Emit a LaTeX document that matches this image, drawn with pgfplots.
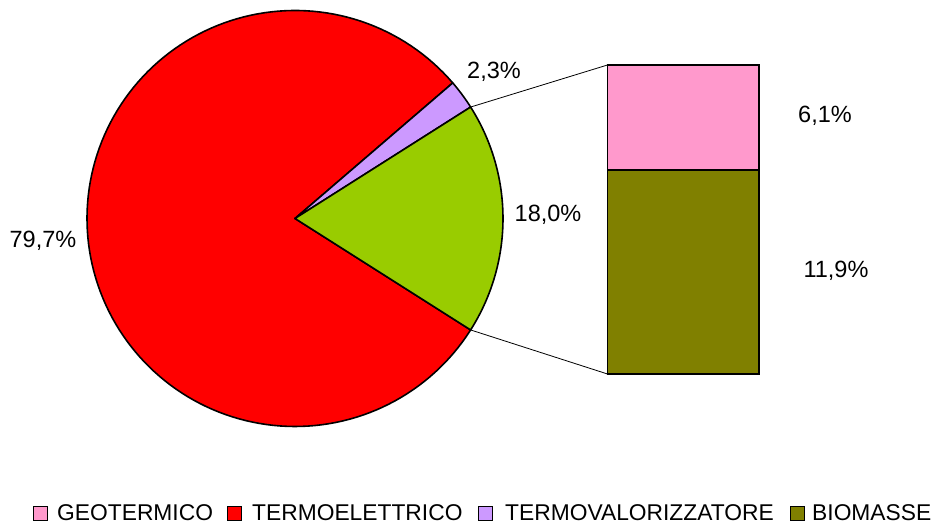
\documentclass[border=0pt]{standalone}
\usepackage{pgfplots}
\pgfplotsset{compat=1.18}
\usepackage{fontspec}
\setmainfont{Liberation Sans}
\definecolor{cred}{HTML}{FF0000}
\definecolor{cpurple}{HTML}{CC99FF}
\definecolor{cgreen}{HTML}{99CC00}
\definecolor{cpink}{HTML}{FF99CC}
\definecolor{colive}{HTML}{808000}
\newcommand{\labfont}{\fontsize{23.5bp}{27bp}\selectfont}
\newcommand{\legfont}{\fontsize{22.8bp}{26bp}\selectfont}
% pie data (percent)
\def\pTermo{79.7}
\def\pValor{2.3}
\def\pAltre{18.0}
% bar data (percent of total)
\def\pGeo{6.1}
\def\pBio{11.9}
\begin{document}
\begin{tikzpicture}
\pgfmathsetmacro{\aG}{\pAltre*3.6/2}
\pgfmathsetmacro{\aV}{\aG+\pValor*3.6}
\pgfmathsetmacro{\aR}{\aV+\pTermo*3.6}
\pgfmathsetmacro{\cx}{295}
\pgfmathsetmacro{\cy}{305.5}
\pgfmathsetmacro{\r}{208}
\pgfmathsetmacro{\bb}{150}
\pgfmathsetmacro{\bt}{459}
\pgfmathsetmacro{\bs}{\bb+(\bt-\bb)*\pBio/(\pBio+\pGeo)}
\begin{axis}[x=1bp,y=1bp,xmin=0,xmax=933,ymin=0,ymax=524,
  hide axis, clip=false,
]
\addplot[draw=none, forget plot] coordinates {(0,0) (933,524)};
% pie slices
\addplot[fill=cred, draw=black, line width=1.6bp, line join=round, domain=\aV:360-\aG, samples=150, variable=\t, forget plot]
  ({\cx+\r*cos(\t)},{\cy+\r*sin(\t)}) -- (axis cs:\cx,\cy) -- cycle;
\addplot[fill=cpurple, draw=black, line width=1.6bp, line join=round, domain=\aG:\aV, samples=20, variable=\t, forget plot]
  ({\cx+\r*cos(\t)},{\cy+\r*sin(\t)}) -- (axis cs:\cx,\cy) -- cycle;
\addplot[fill=cgreen, draw=black, line width=1.6bp, line join=round, domain=-\aG:\aG, samples=60, variable=\t, forget plot]
  ({\cx+\r*cos(\t)},{\cy+\r*sin(\t)}) -- (axis cs:\cx,\cy) -- cycle;
% connectors
\addplot[black, line width=0.8bp, forget plot] coordinates {({\cx+\r*cos(\aG)},{\cy+\r*sin(\aG)}) (607.5,\bt)};
\addplot[black, line width=0.8bp, forget plot] coordinates {({\cx+\r*cos(\aG)},{\cy-\r*sin(\aG)}) (607.5,\bb)};
% bar
\addplot[fill=colive, draw=black, line width=1.6bp, forget plot] coordinates {(607.5,\bb) (759,\bb) (759,\bs) (607.5,\bs)} -- cycle;
\addplot[fill=cpink, draw=black, line width=1.6bp, forget plot] coordinates {(607.5,\bs) (759,\bs) (759,\bt) (607.5,\bt)} -- cycle;
% labels
\node[font=\labfont] at (axis cs:494,452) {2,3\%};
\node[font=\labfont] at (axis cs:548,309) {18,0\%};
\node[font=\labfont] at (axis cs:43,283) {79,7\%};
\node[font=\labfont] at (axis cs:825,408) {6,1\%};
\node[font=\labfont] at (axis cs:836,253) {11,9\%};
% legend
\filldraw[fill=cpink, draw=black, line width=1.3bp] (axis cs:33.5,3.5) rectangle (axis cs:47.5,17.5);
\node[font=\legfont, anchor=base west, inner sep=0pt] at (axis cs:57,3) {GEOTERMICO};
\filldraw[fill=cred, draw=black, line width=1.3bp] (axis cs:227.5,3.5) rectangle (axis cs:241.5,17.5);
\node[font=\legfont, anchor=base west, inner sep=0pt] at (axis cs:252,3) {TERMOELETTRICO};
\filldraw[fill=cpurple, draw=black, line width=1.3bp] (axis cs:478.5,3.5) rectangle (axis cs:492.5,17.5);
\node[font=\legfont, anchor=base west, inner sep=0pt] at (axis cs:505,3) {TERMOVALORIZZATORE};
\filldraw[fill=colive, draw=black, line width=1.3bp] (axis cs:790.5,3.5) rectangle (axis cs:804.5,17.5);
\node[font=\legfont, anchor=base west, inner sep=0pt] at (axis cs:812,3) {BIOMASSE};
\end{axis}
\end{tikzpicture}
\end{document}
